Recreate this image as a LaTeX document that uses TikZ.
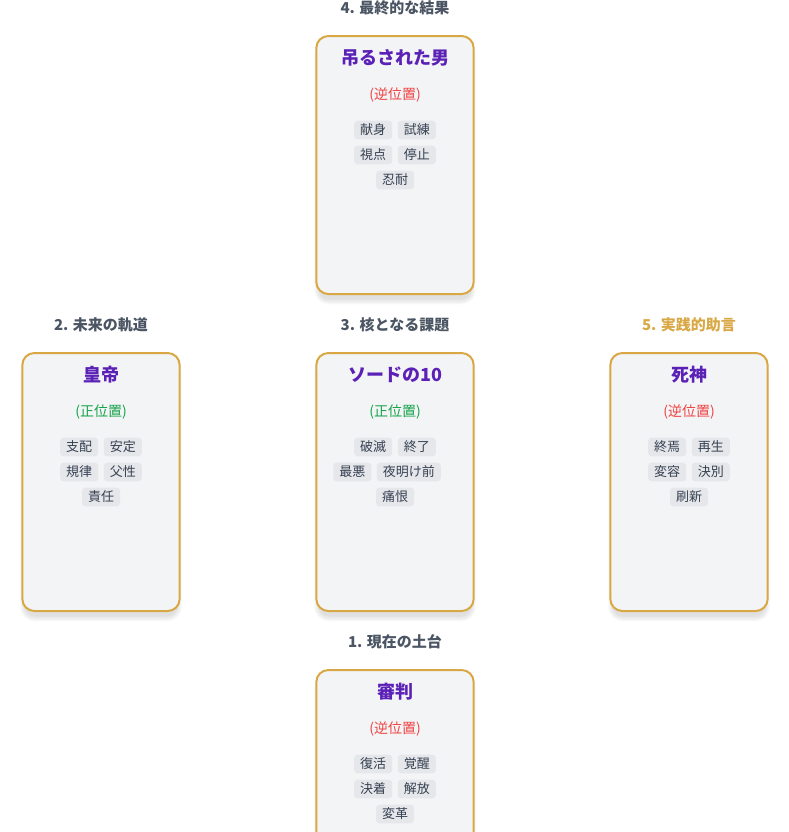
\documentclass[tikz,border=0pt]{standalone}
\usepackage{fontspec}
\setmainfont{Noto Sans CJK JP}
\usetikzlibrary{positioning,shadows.blur}
\definecolor{cardgold}{HTML}{D9A845}
\definecolor{cardbg}{HTML}{F3F4F6}
\definecolor{titlepurple}{HTML}{5B21B6}
\definecolor{revred}{HTML}{EF4444}
\definecolor{upgreen}{HTML}{16A34A}
\definecolor{headgray}{HTML}{4B5563}
\definecolor{taggray}{HTML}{E5E7EB}
\definecolor{tagtext}{HTML}{374151}

\begin{document}
\begin{tikzpicture}[x=0.75pt, y=-0.75pt]

\tikzset{%
    every card/.style = {
        draw=cardgold, line width=1.5pt, fill=cardbg, rounded corners=9pt,
        minimum width=118pt, minimum height=193.5pt, anchor=north,
        blur shadow={shadow blur steps=8, shadow xshift=0pt, shadow yshift=-6pt, shadow opacity=12}
    },
    card title/.style = {font=\bfseries\fontsize{13.5}{15}\selectfont, text=titlepurple},
    card head/.style = {font=\bfseries\fontsize{11.25}{13}\selectfont, text=headgray},
    card head gold/.style = {card head, text=cardgold},
    orient rev/.style = {font=\fontsize{10.5}{12}\selectfont, text=revred},
    orient up/.style = {font=\fontsize{10.5}{12}\selectfont, text=upgreen},
    tag/.style = {fill=taggray, rounded corners=2.5pt, text=tagtext,
        font=\fontsize{9.75}{11}\selectfont, inner xsep=4.5pt, inner ysep=0pt,
        minimum height=14pt}
}

\useasboundingbox (0,0) rectangle (789,832);

\foreach \n/\cx/\top/\hs/\hd/\ti/\os/\ot/\ta/\tb/\te in {
    final/395/35/card head/4. 最終的な結果/吊るされた男/orient rev/(逆位置)/献身/試練/忍耐,
    future/101/352/card head/2. 未来の軌道/皇帝/orient up/(正位置)/支配/安定/責任,
    core/395/352/card head/3. 核となる課題/ソードの10/orient up/(正位置)/破滅/終了/痛恨,
    advice/689/352/card head gold/5. 実践的助言/死神/orient rev/(逆位置)/終焉/再生/刷新,
    base/395/669/card head/1. 現在の土台/審判/orient rev/(逆位置)/復活/覚醒/変革}
{
  \node [\hs] (\n-head) at (\cx,\top-27) {\hd};
  \node [every card] (\n) at (\cx,\top) {};
  \node [card title] (\n-title) at (\cx,\top+23) {\ti};
  \node [\os] (\n-orient) at (\cx,\top+60) {\ot};
  \node [tag, anchor=east] (\n-t1) at (\cx-2.5,\top+95) {\ta};
  \node [tag, right=3.75pt of \n-t1] (\n-t2) {\tb};
  \node [tag] (\n-t5) at (\cx,\top+145) {\te};
}

% second tag rows
\foreach \n/\cx/\top/\tc/\td in {final/395/35/視点/停止, future/101/352/規律/父性,
    advice/689/352/変容/決別, base/395/669/決着/解放}
{
  \node [tag, anchor=east] (\n-t3) at (\cx-2.5,\top+120) {\tc};
  \node [tag, right=3.75pt of \n-t3] (\n-t4) {\td};
}
\node [tag, anchor=west] (core-t3) at (333,472) {最悪};
\node [tag, right=3.75pt of core-t3] (core-t4) {夜明け前};

\end{tikzpicture}
\end{document}
